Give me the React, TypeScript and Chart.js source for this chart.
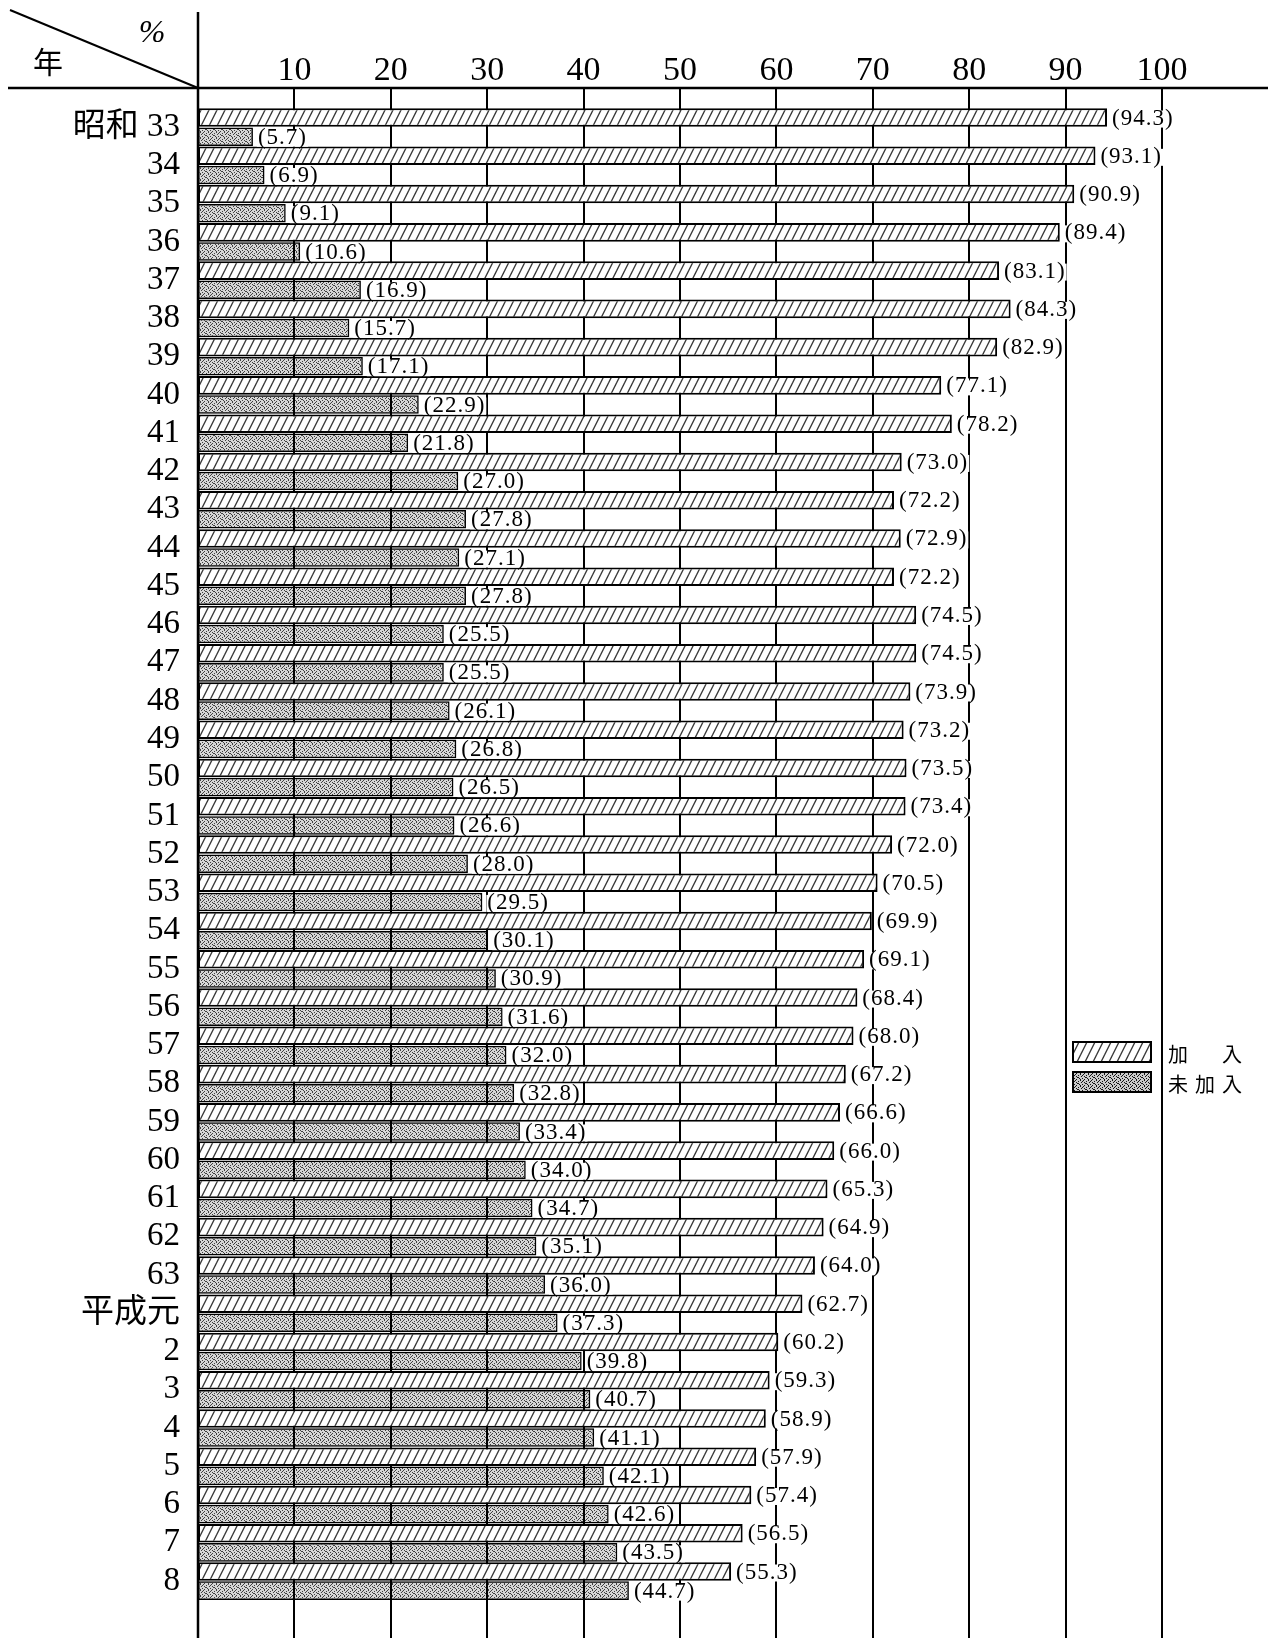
import React, { useEffect, useRef } from 'react';
import { Chart, registerables } from 'chart.js';

Chart.register(...registerables);

const years = [
  '昭和 33', '34', '35', '36', '37', '38', '39', '40', '41', '42', '43', '44', '45', '46', '47', '48',
  '49', '50', '51', '52', '53', '54', '55', '56', '57', '58', '59', '60', '61', '62', '63',
  '平成元', '2', '3', '4', '5', '6', '7', '8',
];
const joined = [
  94.3, 93.1, 90.9, 89.4, 83.1, 84.3, 82.9, 77.1, 78.2, 73.0, 72.2, 72.9, 72.2, 74.5, 74.5, 73.9,
  73.2, 73.5, 73.4, 72.0, 70.5, 69.9, 69.1, 68.4, 68.0, 67.2, 66.6, 66.0, 65.3, 64.9, 64.0,
  62.7, 60.2, 59.3, 58.9, 57.9, 57.4, 56.5, 55.3,
];
const notJoined = [
  5.7, 6.9, 9.1, 10.6, 16.9, 15.7, 17.1, 22.9, 21.8, 27.0, 27.8, 27.1, 27.8, 25.5, 25.5, 26.1,
  26.8, 26.5, 26.6, 28.0, 29.5, 30.1, 30.9, 31.6, 32.0, 32.8, 33.4, 34.0, 34.7, 35.1, 36.0,
  37.3, 39.8, 40.7, 41.1, 42.1, 42.6, 43.5, 44.7,
];
const seriesNames = ['加　入', '未加入'];
const xTicks = [10, 20, 30, 40, 50, 60, 70, 80, 90, 100];
const unitMark = '%';
const yearMark = '年';

const W = 1268;
const H = 1638;
const SERIF = "'Liberation Serif', 'Noto Sans CJK JP', serif";

function makeHatch(): CanvasPattern | string {
  const c = document.createElement('canvas');
  const w = 8, h = 16;
  c.width = w; c.height = h;
  const g = c.getContext('2d');
  if (!g) return '#fff';
  g.fillStyle = '#fff';
  g.fillRect(0, 0, w, h);
  g.strokeStyle = '#3a3a3a';
  g.lineWidth = 1.3;
  for (const dy of [-h, 0, h]) {
    g.beginPath();
    g.moveTo(-1, h + dy + 2);
    g.lineTo(w + 1, dy - 2);
    g.stroke();
  }
  return g.createPattern(c, 'repeat') || '#fff';
}

function makeStipple(dark: number): CanvasPattern | string {
  const c = document.createElement('canvas');
  const w = 8, h = 6;
  c.width = w; c.height = h;
  const g = c.getContext('2d');
  if (!g) return '#999';
  g.fillStyle = `rgba(0,0,0,${0.16 * dark})`;
  g.fillRect(0, 0, w, h);
  g.fillStyle = `rgba(0,0,0,${0.7 * dark})`;
  const dots = [[0, 0], [3, 0], [6, 1], [1, 2], [4, 2], [5, 3], [2, 4], [7, 4], [0, 5], [4, 5], [6, 3], [2, 1]];
  for (const [x, y] of dots) g.fillRect(x, y, 1, 1);
  return g.createPattern(c, 'repeat') || '#999';
}

export default function App() {
  const ref = useRef<HTMLCanvasElement | null>(null);

  useEffect(() => {
    document.body.style.margin = '0';
    const canvas = ref.current;
    if (!canvas) return;
    const hatch = makeHatch();
    const stipple = makeStipple(1);
    const stippleDark = makeStipple(1.3);

    const decor = {
      id: 'decor',
      beforeDatasetsDraw(chart: any) {
        const ctx = chart.ctx;
        const xs = chart.scales.x;
        const headerY = chart.chartArea.top - 20;
        ctx.save();
        ctx.strokeStyle = '#000';
        ctx.lineWidth = 2;
        for (const v of xTicks) {
          const px = Math.round(xs.getPixelForValue(v));
          ctx.beginPath();
          ctx.moveTo(px, headerY);
          ctx.lineTo(px, chart.height);
          ctx.stroke();
        }
        ctx.restore();
      },
      afterDatasetsDraw(chart: any) {
        const ctx = chart.ctx;
        const area = chart.chartArea;
        const headerY = area.top - 20;
        ctx.save();
        // value labels
        ctx.font = `23px ${SERIF}`;
        ctx.textBaseline = 'middle';
        ctx.textAlign = 'left';
        chart.data.datasets.forEach((ds: any, di: number) => {
          const meta = chart.getDatasetMeta(di);
          meta.data.forEach((el: any, i: number) => {
            const v = ds.data[i] as number;
            const txt = `(${v.toFixed(1)})`;
            const tx = el.x + 5;
            const ty = el.y + 1;
            (ctx as any).letterSpacing = '1px';
            const tw = ctx.measureText(txt).width;
            ctx.fillStyle = '#fff';
            ctx.fillRect(tx - 1, ty - 8, tw + 2, 17);
            ctx.fillStyle = '#000';
            ctx.fillText(txt, tx, ty);
            (ctx as any).letterSpacing = '0px';
          });
        });

        // header and axis lines
        ctx.strokeStyle = '#000';
        ctx.lineWidth = 2.5;
        ctx.beginPath();
        ctx.moveTo(8, headerY);
        ctx.lineTo(W, headerY);
        ctx.stroke();
        ctx.beginPath();
        ctx.moveTo(area.left, 12);
        ctx.lineTo(area.left, chart.height);
        ctx.stroke();
        ctx.lineWidth = 2;
        ctx.beginPath();
        ctx.moveTo(10, 10);
        ctx.lineTo(area.left, headerY);
        ctx.stroke();

        ctx.fillStyle = '#000';
        ctx.textAlign = 'center';
        ctx.font = `italic 32px ${SERIF}`;
        ctx.fillText(unitMark, 152, 34);
        ctx.font = "30px 'Noto Sans CJK JP', sans-serif";
        ctx.fillText(yearMark, 48, 62);

        // legend
        const lx = 1073, lw = 78, lh = 20;
        const rows = [
          { y: 1042, fill: hatch },
          { y: 1072, fill: stippleDark },
        ];
        rows.forEach((r, i) => {
          ctx.fillStyle = '#fff';
          ctx.fillRect(lx - 6, r.y - 6, lw + 12, lh + 12);
          ctx.fillStyle = r.fill as any;
          ctx.fillRect(lx, r.y, lw, lh);
          ctx.lineWidth = 2;
          ctx.strokeStyle = '#000';
          ctx.strokeRect(lx, r.y, lw, lh);
          ctx.fillStyle = '#000';
          ctx.textAlign = 'left';
          ctx.font = "20px 'Noto Sans CJK JP', sans-serif";
          (ctx as any).letterSpacing = '7px';
          ctx.fillText(seriesNames[i], 1168, r.y + 12);
          (ctx as any).letterSpacing = '0px';
        });
        ctx.restore();
      },
    };

    const chart = new Chart(canvas, {
      type: 'bar',
      data: {
        labels: years,
        datasets: [
          {
            label: seriesNames[0],
            data: joined,
            backgroundColor: hatch as any,
            borderColor: '#000',
            borderWidth: 2,
            borderSkipped: false,
            categoryPercentage: 1,
            barPercentage: 0.97,
          },
          {
            label: seriesNames[1],
            data: notJoined,
            backgroundColor: stipple as any,
            borderColor: '#000',
            borderWidth: 1.5,
            borderSkipped: false,
            categoryPercentage: 1,
            barPercentage: 0.97,
          },
        ],
      },
      options: {
        indexAxis: 'y',
        animation: false,
        responsive: false,
        layout: { padding: { top: 0, left: 0, right: 0, bottom: 21 } },
        plugins: {
          legend: { display: false },
          tooltip: { enabled: false },
        },
        scales: {
          x: {
            type: 'linear',
            position: 'top',
            min: 0,
            max: 111,
            grid: { display: false, drawTicks: false },
            border: { display: false },
            ticks: {
              color: '#000',
              font: { family: SERIF, size: 34 },
              padding: 17,
              maxRotation: 0,
              autoSkip: false,
            },
            afterBuildTicks: (s: any) => {
              s.ticks = xTicks.map((v) => ({ value: v }));
            },
            afterFit: (s: any) => {
              s.height = 108;
            },
          },
          y: {
            type: 'category',
            grid: { display: false, drawTicks: false },
            border: { display: false },
            ticks: {
              color: '#000',
              font: { family: SERIF, size: 33 },
              padding: 18,
              autoSkip: false,
            },
            afterFit: (s: any) => {
              s.width = 198;
            },
          },
        },
      },
      plugins: [decor],
    });
    return () => chart.destroy();
  }, []);

  return (
    <div style={{ width: W, height: H, background: '#fff' }}>
      <canvas ref={ref} width={W} height={H} style={{ width: W, height: H, display: 'block' }} />
    </div>
  );
}
